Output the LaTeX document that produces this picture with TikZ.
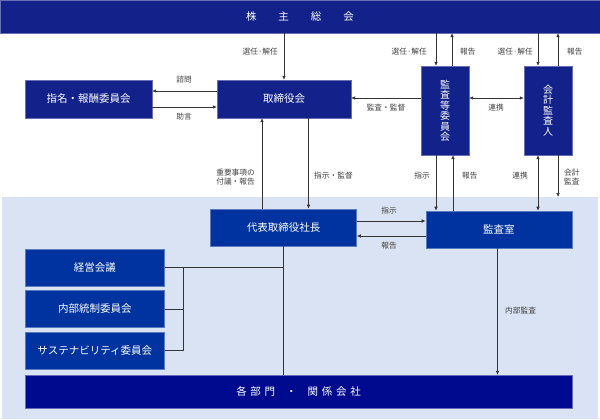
\documentclass[tikz,border=0pt]{standalone}
\usepackage{fontspec}
\setmainfont{Noto Sans CJK JP}
\usetikzlibrary{positioning,arrows.meta}
\definecolor{navyA}{HTML}{13228A}
\definecolor{navyB}{HTML}{0033A0}
\definecolor{navyC}{HTML}{000A8E}
\definecolor{bgblue}{HTML}{DAE3F3}
\definecolor{lblgray}{HTML}{404040}
\tikzset{
  upperbox/.style={draw=navyA!65!white, fill=navyA, text=white, inner sep=0pt,
    font=\fontsize{10.5}{12}\selectfont},
  lowerbox/.style={draw=navyB!65!white, fill=navyB, text=white, inner sep=0pt,
    font=\fontsize{10.5}{12}\selectfont},
  tallbox/.style={upperbox, align=center, minimum width=48pt, minimum height=89pt,
    font=\fontsize{10}{10.5}\selectfont},
  lbl/.style={text=lblgray, inner sep=1pt, font=\fontsize{7.7}{9.7}\selectfont},
  arr/.style={-{Latex[length=4pt,width=3.6pt]}, draw=black!80, line width=0.6pt},
  dblarr/.style={{Latex[length=4pt,width=3.6pt]}-{Latex[length=4pt,width=3.6pt]}, draw=black!80, line width=0.6pt},
  ln/.style={draw=black!80, line width=0.6pt},
}
\begin{document}
\begin{tikzpicture}[x=1pt,y=-1pt]
  \useasboundingbox (0,0) rectangle (600,420);
  \fill[bgblue] (2,197) rectangle (598,419);

  \node[upperbox, minimum width=600pt, minimum height=33pt] (GM) at (300,16.5)
    {株\hspace{22pt}主\hspace{22pt}総\hspace{22pt}会};
  \node[upperbox, minimum width=127pt, minimum height=38pt] (NomRem) at (88.5,99) {指名・報酬委員会};
  \node[upperbox, minimum width=134pt, minimum height=38pt] (Board) at (284,99) {取締役会};
  \node[tallbox] (AuditCom) at (445,110.5) {監\\査\\等\\委\\員\\会};
  \node[tallbox] (Auditor) at (548,110.5) {会\\計\\監\\査\\人};

  \node[lowerbox, minimum width=146pt, minimum height=37pt] (CEO) at (283.6,227.4) {代表取締役社長};
  \node[lowerbox, minimum width=146pt, minimum height=37pt] (IAO) at (498.8,229.4) {監査室};
  \node[lowerbox, minimum width=139.6pt, minimum height=37pt] (Mgmt) at (94.8,267.5) {経営会議};
  \node[lowerbox, on grid, below=41.5pt of Mgmt, minimum width=139.6pt, minimum height=37pt] (ICC) {内部統制委員会};
  \node[lowerbox, on grid, below=41.5pt of ICC, minimum width=139.6pt, minimum height=37pt] (SusC) {サステナビリティ委員会};
  \node[draw=navyC!60!white, fill=navyC, text=white, inner sep=0pt, font=\fontsize{10.5}{12}\selectfont,
    minimum width=547pt, minimum height=33pt] (Depts) at (298.5,391.5)
    {各\hspace{3.7pt}部\hspace{3.7pt}門\hspace{11pt}・\hspace{11pt}関\hspace{3.7pt}係\hspace{3.7pt}会\hspace{3.7pt}社};

  % shareholders meeting
  \draw[arr] (GM.south -| Board.north) -- (Board.north);
  \draw[arr] (GM.south -| 436,0) -- (AuditCom.north -| 436,0);
  \draw[arr] (AuditCom.north -| 452,0) -- (GM.south -| 452,0);
  \draw[arr] (GM.south -| 538,0) -- (Auditor.north -| 538,0);
  \draw[arr] (Auditor.north -| 558,0) -- (GM.south -| 558,0);
  \node[lbl, anchor=east] (SelA) at (279,52) {選任·解任};
  \node[lbl, anchor=east] (SelB) at (428,52) {選任·解任};
  \node[lbl, anchor=west] (RepA) at (459,52) {報告};
  \node[lbl, anchor=east] (SelC) at (534,52) {選任·解任};
  \node[lbl, anchor=west] (RepB) at (566,52) {報告};

  % board level
  \draw[arr] (Board.west |- 0,91) -- (NomRem.east |- 0,91);
  \draw[arr] (NomRem.east |- 0,107) -- (Board.west |- 0,107);
  \node[lbl] (Consult) at (184,80) {諮問};
  \node[lbl] (Advice) at (184,117) {助言};
  \draw[arr] (AuditCom.west |- 0,98) -- (Board.east |- 0,98);
  \node[lbl] (Superv) at (386,108) {監査・監督};
  \draw[dblarr] (AuditCom.east |- 0,98) -- (Auditor.west |- 0,98);
  \node[lbl] (CoopA) at (496,108) {連携};

  % board and president
  \draw[arr] (CEO.north -| 262,0) -- (Board.south -| 262,0);
  \draw[arr] (Board.south -| 308.5,0) -- (CEO.north -| 308.5,0);
  \node[lbl, anchor=east, align=left] (Agenda) at (256,177) {重要事項の\\付議・報告};
  \node[lbl, anchor=west] (Direct) at (313,176) {指示・監督};

  % audit office
  \draw[arr] (AuditCom.south -| 436,0) -- (IAO.north -| 436,0);
  \draw[arr] (IAO.north -| 453,0) -- (AuditCom.south -| 453,0);
  \coordinate (AcctEnd) at (558,197);
  \draw[dblarr] (Auditor.south -| 538,0) -- (IAO.north -| 538,0);
  \draw[arr] (Auditor.south -| 558,0) -- (AcctEnd);
  \node[lbl, anchor=east] (InstrA) at (431,176) {指示};
  \node[lbl, anchor=west] (RepC) at (461,176) {報告};
  \node[lbl, anchor=east] (CoopB) at (529,176) {連携};
  \node[lbl, anchor=west, align=left] (AcctAud) at (563,177) {会計\\監査};
  \draw[arr] (CEO.east |- 0,221) -- (IAO.west |- 0,221);
  \draw[arr] (IAO.west |- 0,236) -- (CEO.east |- 0,236);
  \node[lbl] (InstrB) at (389,211) {指示};
  \node[lbl] (RepD) at (389,246) {報告};
  \draw[arr] (IAO.south -| 497.5,0) -- (Depts.north -| 497.5,0);
  \node[lbl, anchor=west] (IntAud) at (504,311) {内部監査};

  % president to departments and committees
  \draw[ln] (CEO.south) -- (Depts.north -| CEO.south);
  \draw[ln] (Mgmt.east) -- (Mgmt.east -| CEO.south);
  \draw[ln] (Mgmt.east -| 183.7,0) -- (SusC.east -| 183.7,0) -- (SusC.east);
  \draw[ln] (ICC.east) -- (ICC.east -| 183.7,0);
\end{tikzpicture}
\end{document}
